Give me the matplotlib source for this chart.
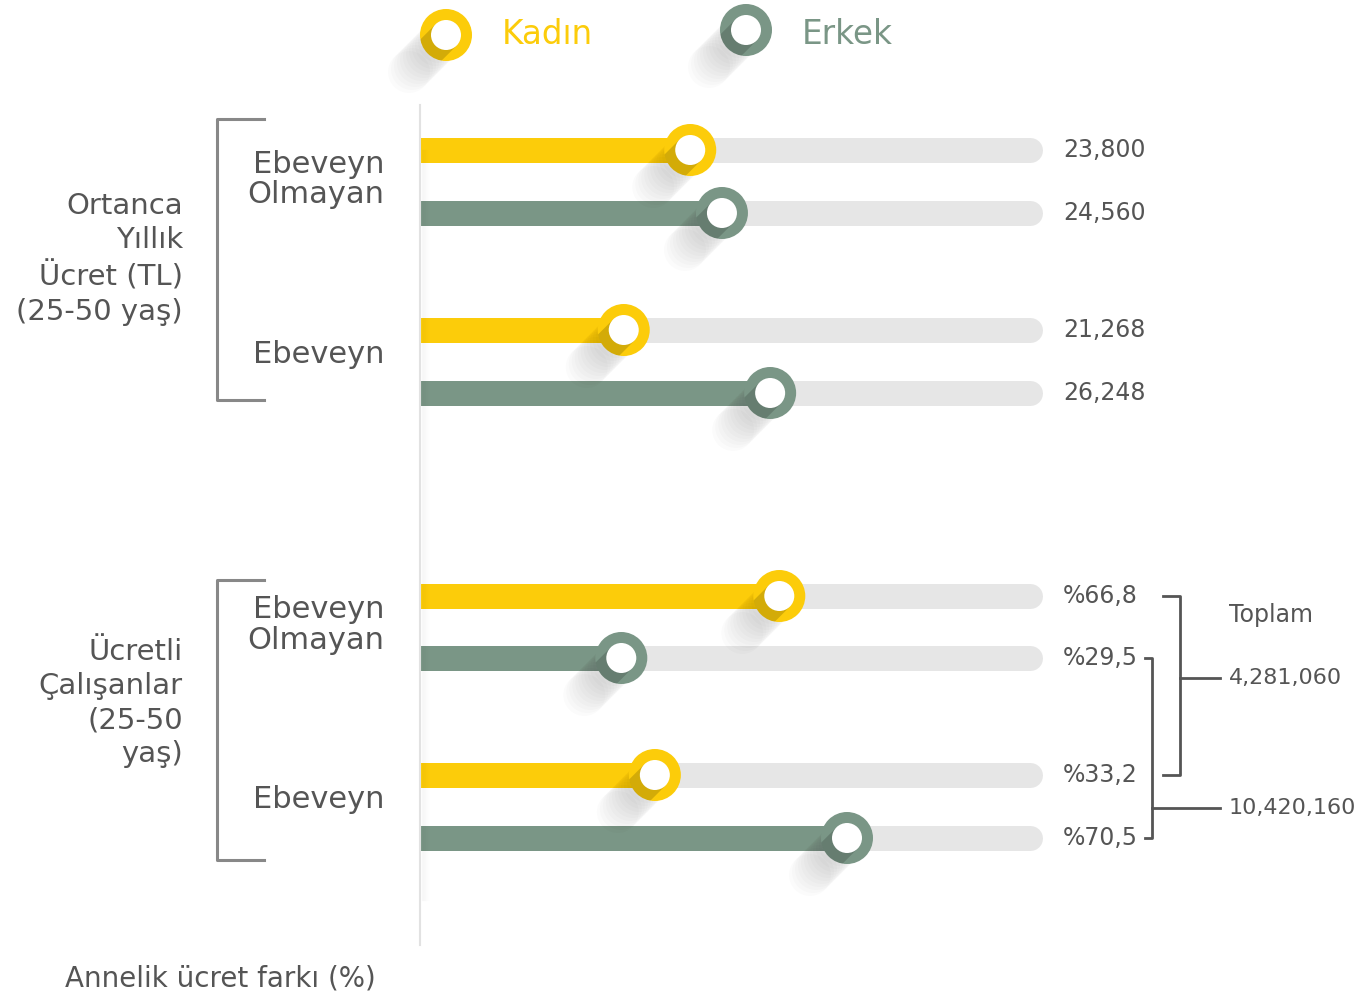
"""
ebeveynlik ve ücret farkı grafiği: yuvarlak uçlu çubuklar,
halka işaretler ve sağdaki toplam parantezleri
"""

import matplotlib
matplotlib.use('Agg')
import matplotlib.pyplot as plt
from matplotlib.patches import Circle, Polygon

# renkler
YELLOW = '#FCCC0A'
GREEN = '#7A9686'
TRACK = '#E6E6E6'
TEXT = '#555555'

# veriler (çubuk doluluğu, izin %'si olarak)
groups = ['Ortanca\nYıllık\nÜcret (TL)\n(25-50 yaş)', 'Ücretli\nÇalışanlar\n(25-50\nyaş)']
subgroups = ['Ebeveyn\nOlmayan', 'Ebeveyn']
series = ['Kadın', 'Erkek']
bar_fill = [44.3, 49.5, 33.4, 57.4, 58.9, 33.0, 38.5, 70.0]
value_labels = ['23,800', '24,560', '21,268', '26,248', '%66,8', '%29,5', '%33,2', '%70,5']
totals = ['4,281,060', '10,420,160']
total_title = 'Toplam'
bottom_label = 'Annelik ücret farkı (%)'

# satır yerleşimi (piksel)
row_y = [150, 213, 330, 393, 596, 658, 775, 838]
row_color = [YELLOW, GREEN] * 4

W, H = 1360, 996
PX_PER_UNIT = 6.1
plt.rcParams['font.family'] = ['DejaVu Sans']


def ring(ax, cx, cy, color, r_out=26, r_in=15, z=5):
    """halka işaret, sol alta doğru uzun gölge ile"""
    for d in range(4, 38, 3):
        ax.add_patch(Circle((cx - d, cy + d), r_out - 5, color='k',
                            alpha=0.016, lw=0, zorder=z))
    outer = Circle((cx, cy), r_out, color=color, lw=0, zorder=z + 1)
    ax.add_patch(outer)
    # halkanın üzerindeki koyu bant
    s = 0.7071
    L = 60
    band = Polygon([(cx - r_in * s, cy - r_in * s), (cx + r_in * s, cy + r_in * s),
                    (cx + r_in * s - L * s, cy + r_in * s + L * s),
                    (cx - r_in * s - L * s, cy - r_in * s + L * s)],
                   closed=True, color='k', alpha=0.16, lw=0, zorder=z + 2)
    ax.add_patch(band)
    band.set_clip_path(outer)
    ax.add_patch(Circle((cx, cy), r_in, color='white', lw=0, zorder=z + 3))


fig = plt.figure(figsize=(W / 100, H / 100), dpi=100)

# çubuk ekseni: x değeri, y piksel satırları
ax = fig.add_axes([420 / W, 0, 640 / W, 1])
ax.set_xlim(0, 640 / PX_PER_UNIT)
ax.set_ylim(H, 0)
ax.axis('off')

# üst katman: piksel koordinatları
ov = fig.add_axes([0, 0, 1, 1], zorder=5)
ov.set_xlim(0, W)
ov.set_ylim(H, 0)
ov.axis('off')
ov.patch.set_alpha(0)

for y, v, c in zip(row_y, bar_fill, row_color):
    ax.plot([0, 100], [y, y], color=TRACK, lw=18, solid_capstyle='round', zorder=1)
    ax.plot([0, v], [y, y], color=c, lw=18, solid_capstyle='butt', zorder=2)

fig.canvas.draw()
for y, v, c, lab in zip(row_y, bar_fill, row_color, value_labels):
    dx, dy = ax.transData.transform((v, y))
    ring(ov, dx, H - dy, c)
    ov.text(1063, y, lab, fontsize=17, color=TEXT, va='center', ha='left')

# dikey eksen çizgisi ve gölgesi
ov.plot([420, 420], [105, 945], color='#E2E2E2', lw=1.5, zorder=3)
for i in range(8):
    ov.plot([421.5 + i, 421.5 + i], [150, 900], color='k',
            alpha=0.025 * (8 - i) / 8, lw=1, zorder=3)

# lejant
ring(ov, 446, 35, YELLOW)
ov.text(502, 34, series[0], fontsize=23.5, color=YELLOW, va='center', ha='left')
ring(ov, 746, 30, GREEN)
ov.text(802, 34, series[1], fontsize=23.5, color=GREEN, va='center', ha='left')

# grup parantezleri ve etiketler
for (top, bot), g, gy in zip([(119, 400), (580, 860)], groups, [259, 703]):
    ov.plot([264, 217, 217, 264], [top, top, bot, bot], color='#888888', lw=2.2)
    ov.text(183, gy, g, fontsize=21, color=TEXT, ha='right', va='center',
            linespacing=1.28)
for base in [0, 4]:
    ov.text(384, (row_y[base] + row_y[base + 1]) / 2 - 2, subgroups[0], fontsize=22,
            color=TEXT, ha='right', va='center', linespacing=1.08)
    ov.text(384, (row_y[base + 2] + row_y[base + 3]) / 2 - 7, subgroups[1], fontsize=22,
            color=TEXT, ha='right', va='center')

# sağ taraftaki toplam parantezleri
ov.plot([1163, 1180, 1180, 1163], [row_y[4], row_y[4], row_y[6], row_y[6]], color=TEXT, lw=2)
ov.plot([1180, 1220], [678, 678], color=TEXT, lw=2)
ov.plot([1145, 1152, 1152, 1145], [row_y[5], row_y[5], row_y[7], row_y[7]], color=TEXT, lw=2)
ov.plot([1152, 1220], [808, 808], color=TEXT, lw=2)
ov.text(1229, 615, total_title, fontsize=17, color=TEXT, va='center', ha='left')
ov.text(1229, 678, totals[0], fontsize=16, color=TEXT, va='center', ha='left')
ov.text(1229, 808, totals[1], fontsize=16, color=TEXT, va='center', ha='left')

ov.text(65, 978, bottom_label, fontsize=20, color=TEXT, va='center', ha='left')

fig.savefig('out.png', dpi=100)
